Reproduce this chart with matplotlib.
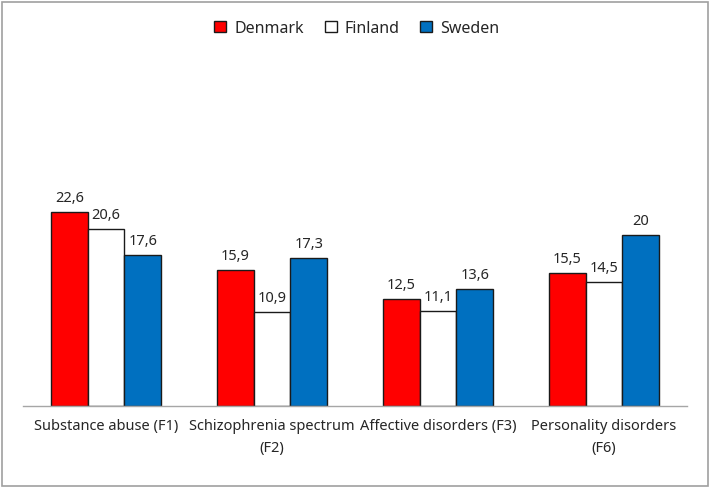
import matplotlib.pyplot as plt
import numpy as np
from matplotlib.patches import Rectangle

categories = ["Substance abuse (F1)", "Schizophrenia spectrum\n(F2)",
              "Affective disorders (F3)", "Personality disorders\n(F6)"]
countries = ["Denmark", "Finland", "Sweden"]
denmark = [22.6, 15.9, 12.5, 15.5]
finland = [20.6, 10.9, 11.1, 14.5]
sweden = [17.6, 17.3, 13.6, 20.0]
colors = ["#ff0000", "#ffffff", "#0070c0"]

plt.rcParams['font.family'] = ['Noto Sans', 'DejaVu Sans']

fig = plt.figure(figsize=(7.12, 4.89), dpi=100)
ax = fig.add_axes([23/712, 1 - 406.7/489, 664/712, 214/489])

x = np.arange(len(categories))
w = 0.221
for i, (name, vals) in enumerate(zip(countries, [denmark, finland, sweden])):
    bars = ax.bar(x + (i - 1)*w, vals, w, color=colors[i], edgecolor="#1a1a1a",
                  linewidth=1.0, label=name, zorder=2)
    for b, v in zip(bars, vals):
        txt = ("%g" % v).replace(".", ",")
        ax.annotate(txt, (b.get_x() + b.get_width()/2, v), xytext=(0, 5),
                    textcoords="offset points", ha="center", va="bottom",
                    fontsize=10.5, color="#262626")

ax.set_xlim(-0.5, 3.5)
ax.set_ylim(0, 25)
ax.set_yticks([])
ax.set_xticks(x)
ax.set_xticklabels(categories, fontsize=10.5, color="#262626", linespacing=1.6)
ax.tick_params(axis="x", length=0, pad=9)
for s in ["top", "right", "left"]:
    ax.spines[s].set_visible(False)
ax.spines["bottom"].set_color("#a6a6a6")
ax.spines["bottom"].set_linewidth(1.0)

leg = fig.legend(loc="center", bbox_to_anchor=(357/712, 1 - 29/489), ncol=3,
                 frameon=False, fontsize=11.5, handlelength=0.75, handleheight=0.75,
                 handletextpad=0.5, columnspacing=1.3)
for t in leg.get_texts():
    t.set_color("#262626")

fig.patches.append(Rectangle((2/712, 2/489), 706/712, 484/489, transform=fig.transFigure,
                             fill=False, edgecolor="#a0a0a0", linewidth=1.2))

fig.savefig("out.png", dpi=100)
